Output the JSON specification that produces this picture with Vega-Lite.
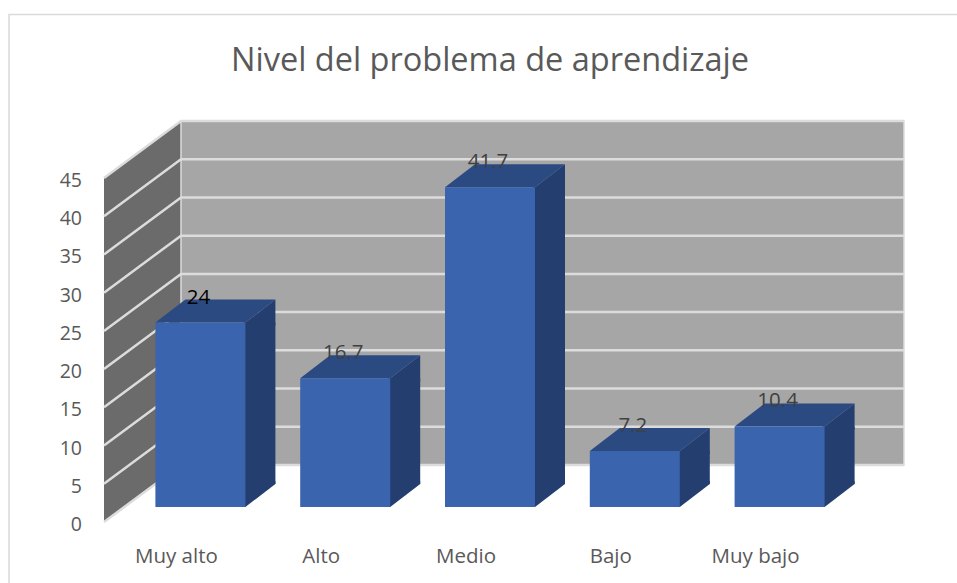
{
  "$schema": "https://vega.github.io/schema/vega-lite/v6.json",
  "width": 724,
  "height": 344,
  "autosize": {"type": "none"},
  "padding": {"left": 104, "top": 178, "right": 129, "bottom": 61},
  "background": "#ffffff",
  "view": {"stroke": null},
  "title": {"text": "Nivel del problema de aprendizaje", "anchor": "middle", "dx": 24, "offset": -66, "font": "Open Sans", "fontSize": 32.5, "fontWeight": "normal", "color": "#595959", "frame": "group"},
  "datasets": {
    "niveles": [
      {"nivel": "Muy alto", "valor": 24},
      {"nivel": "Alto", "valor": 16.7},
      {"nivel": "Medio", "valor": 41.7},
      {"nivel": "Bajo", "valor": 7.2},
      {"nivel": "Muy bajo", "valor": 10.4}
    ],
    "marcas": [
      {"tick": 0}, {"tick": 5}, {"tick": 10}, {"tick": 15}, {"tick": 20},
      {"tick": 25}, {"tick": 30}, {"tick": 35}, {"tick": 40}, {"tick": 45}
    ],
    "base": [{"tick": 0}]
  },
  "layer": [
    {
      "data": {"name": "base"},
      "mark": {"type": "point", "filled": false, "opacity": 1, "size": 4, "strokeWidth": 1.5, "stroke": "#d9d9d9", "shape": "M-95,61 L-95,-507.5 L853,-507.5"},
      "encoding": {"x": {"value": 0}, "y": {"field": "tick", "type": "quantitative", "scale": {"domain": [0, 45], "nice": false}, "axis": null}}
    },
    {
      "data": {"name": "base"},
      "mark": {"type": "point", "filled": true, "opacity": 1, "size": 4, "color": "#6b6b6b", "shape": "M0,0 L77,-57 L77,-401 L0,-344 Z"},
      "encoding": {"x": {"value": 0}, "y": {"field": "tick", "type": "quantitative", "axis": null}}
    },
    {
      "data": {"name": "base"},
      "mark": {"type": "point", "filled": true, "opacity": 1, "size": 4, "fill": "#a6a6a6", "stroke": "#dcdcdc", "strokeWidth": 1.5, "shape": "M77,-57 L800,-57 L800,-401 L77,-401 Z"},
      "encoding": {"x": {"value": 0}, "y": {"field": "tick", "type": "quantitative", "axis": null}}
    },
    {
      "data": {"name": "marcas"},
      "mark": {"type": "point", "filled": false, "opacity": 1, "size": 4, "stroke": "#dcdcdc", "strokeWidth": 2.5, "shape": "M0,0 L77,-57 L800,-57"},
      "encoding": {"x": {"value": 0}, "y": {"field": "tick", "type": "quantitative", "axis": null}}
    },
    {
      "data": {"name": "marcas"},
      "mark": {"type": "text", "align": "right", "baseline": "middle", "dx": -22, "dy": 3, "font": "Open Sans", "fontSize": 19.5, "color": "#595959"},
      "encoding": {"x": {"value": 0}, "y": {"field": "tick", "type": "quantitative", "axis": null}, "text": {"field": "tick", "type": "quantitative"}}
    },
    {
      "data": {"name": "niveles"},
      "layer": [
        {
          "mark": {"type": "rect", "color": "#243f6f", "width": 32, "xOffset": 83, "yOffset": -16, "y2Offset": -38},
          "encoding": {
            "x": {"field": "nivel", "type": "nominal", "sort": null, "scale": {"padding": 0}, "axis": {"title": null, "domain": false, "ticks": false, "labelAngle": 0, "labelFont": "Open Sans", "labelFontSize": 20.5, "labelColor": "#595959", "labelPadding": 24}},
            "y": {"field": "valor", "type": "quantitative", "axis": null},
            "y2": {"datum": 0}
          }
        },
        {
          "mark": {"type": "point", "filled": true, "opacity": 1, "size": 4, "color": "#243f6f", "xOffset": 24, "yOffset": -16, "shape": "M43,3 L43,0 L45,0 L75,-23 L75,3 Z"},
          "encoding": {"x": {"field": "nivel", "type": "nominal", "sort": null}, "y": {"field": "valor", "type": "quantitative", "axis": null}}
        },
        {
          "mark": {"type": "point", "filled": true, "opacity": 1, "size": 4, "color": "#243f6f", "xOffset": 24, "yOffset": -15, "shape": "M43,0 L43,-26 L75,-26 L75,-23 L45,0 Z"},
          "encoding": {"x": {"field": "nivel", "type": "nominal", "sort": null}, "y": {"datum": 0, "type": "quantitative", "axis": null}}
        },
        {
          "mark": {"type": "point", "filled": true, "opacity": 1, "size": 4, "color": "#2b4a82", "xOffset": 24, "yOffset": -16, "shape": "M-45,0 L45,0 L75,-23 L-15,-23 Z"},
          "encoding": {"x": {"field": "nivel", "type": "nominal", "sort": null}, "y": {"field": "valor", "type": "quantitative", "axis": null}}
        },
        {
          "mark": {"type": "rect", "color": "#3a64ad", "width": 90, "xOffset": 24, "yOffset": -16, "y2Offset": -15},
          "encoding": {
            "x": {"field": "nivel", "type": "nominal", "sort": null},
            "y": {"field": "valor", "type": "quantitative", "axis": null},
            "y2": {"datum": 0}
          }
        },
        {
          "mark": {"type": "text", "font": "Open Sans", "fontSize": 20.5, "baseline": "middle", "xOffset": 22, "yOffset": -41},
          "encoding": {
            "x": {"field": "nivel", "type": "nominal", "sort": null},
            "y": {"field": "valor", "type": "quantitative", "axis": null},
            "text": {"field": "valor", "type": "quantitative", "format": ".10~f"},
            "color": {"condition": {"test": "datum.nivel === 'Muy alto'", "value": "#000000"}, "value": "#404040"}
          }
        }
      ]
    }
  ]
}
